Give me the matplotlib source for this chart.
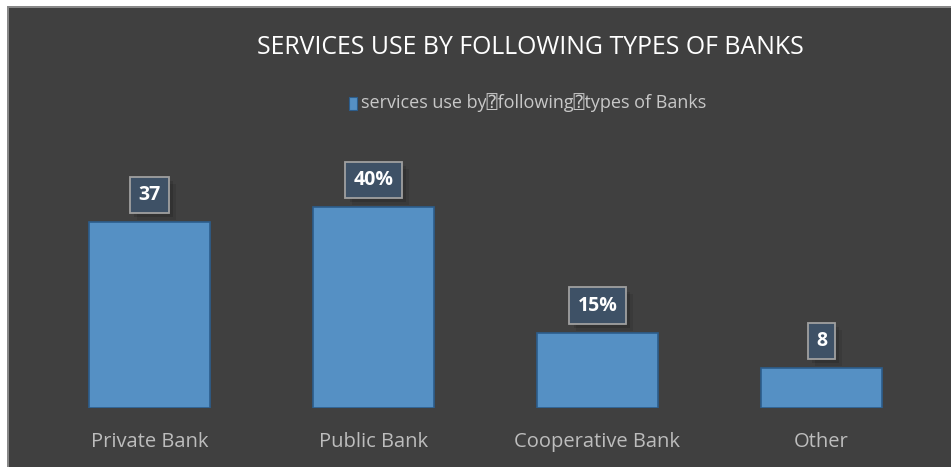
import matplotlib
matplotlib.use('Agg')
import matplotlib.pyplot as plt
import matplotlib.patheffects as pe
from matplotlib.patches import Rectangle

banks = ['Private Bank', 'Public Bank', 'Cooperative Bank', 'Other']
usage = [37, 40, 15, 8]
usage_labels = ['37', '40%', '15%', '8']
series_name = 'services use by\u2370following\u2370types of Banks'

plt.rcParams['font.family'] = ['Open Sans', 'DejaVu Sans', 'DejaVu Sans Mono']

W, H = 951, 467
fig = plt.figure(figsize=(W / 100, H / 100), dpi=100)
fig.patch.set_facecolor('white')

# dark chart area with a thin grey rim on the left and top
fig.patches.append(Rectangle((7 / W, 0), 1, 1 - 6 / H, transform=fig.transFigure,
                             facecolor='#888888', edgecolor='none', zorder=-2))
fig.patches.append(Rectangle((9 / W, 0), 1, 1 - 8 / H, transform=fig.transFigure,
                             facecolor='#404040', edgecolor='none', zorder=-1))

ax = fig.add_axes([37.5 / W, 1 - 408 / H, 896 / W, 231 / H])
ax.set_facecolor('none')
bars = ax.bar(range(len(banks)), usage, width=0.54, color='#5590c4',
              edgecolor='#2c5d8c', linewidth=1.2)
ax.set_xlim(-0.5, len(banks) - 0.5)
ax.set_ylim(0, 46)
ax.set_yticks([])
ax.set_xticks(range(len(banks)))
ax.set_xticklabels(banks, color='#bdbdbd', fontsize=14.5)
ax.tick_params(axis='x', length=0, pad=17)
for s in ax.spines.values():
    s.set_visible(False)

# value boxes with a faint drop shadow
for b, txt in zip(bars, usage_labels):
    t = ax.annotate(txt, (b.get_x() + b.get_width() / 2, b.get_height()),
                    xytext=(0, 19.5), textcoords='offset points',
                    ha='center', va='center', color='white', fontsize=14,
                    fontweight='bold',
                    bbox=dict(boxstyle='square,pad=0.42', facecolor='#3e5166',
                              edgecolor='#a0a0a0', linewidth=1.3))
    t.get_bbox_patch().set_path_effects(
        [pe.SimplePatchShadow(offset=(5, -5), shadow_rgbFace='black', alpha=0.08),
         pe.SimplePatchShadow(offset=(3, -3), shadow_rgbFace='black', alpha=0.12),
         pe.Normal()])

fig.text(530 / W, 1 - 48 / H, 'SERVICES USE BY FOLLOWING TYPES OF BANKS',
         ha='center', va='center', color='white', fontsize=17.9)

# legend entry: blue square + series name
fig.patches.append(Rectangle((349 / W, 1 - 110 / H), 8 / W, 13 / H,
                             transform=fig.transFigure, facecolor='#5590c4',
                             edgecolor='#2c5d8c', linewidth=0.8))
fig.text(361 / W, 1 - 103 / H, series_name, ha='left', va='center',
         color='#c8c8c8', fontsize=13)

fig.savefig('out.png', dpi=100)
